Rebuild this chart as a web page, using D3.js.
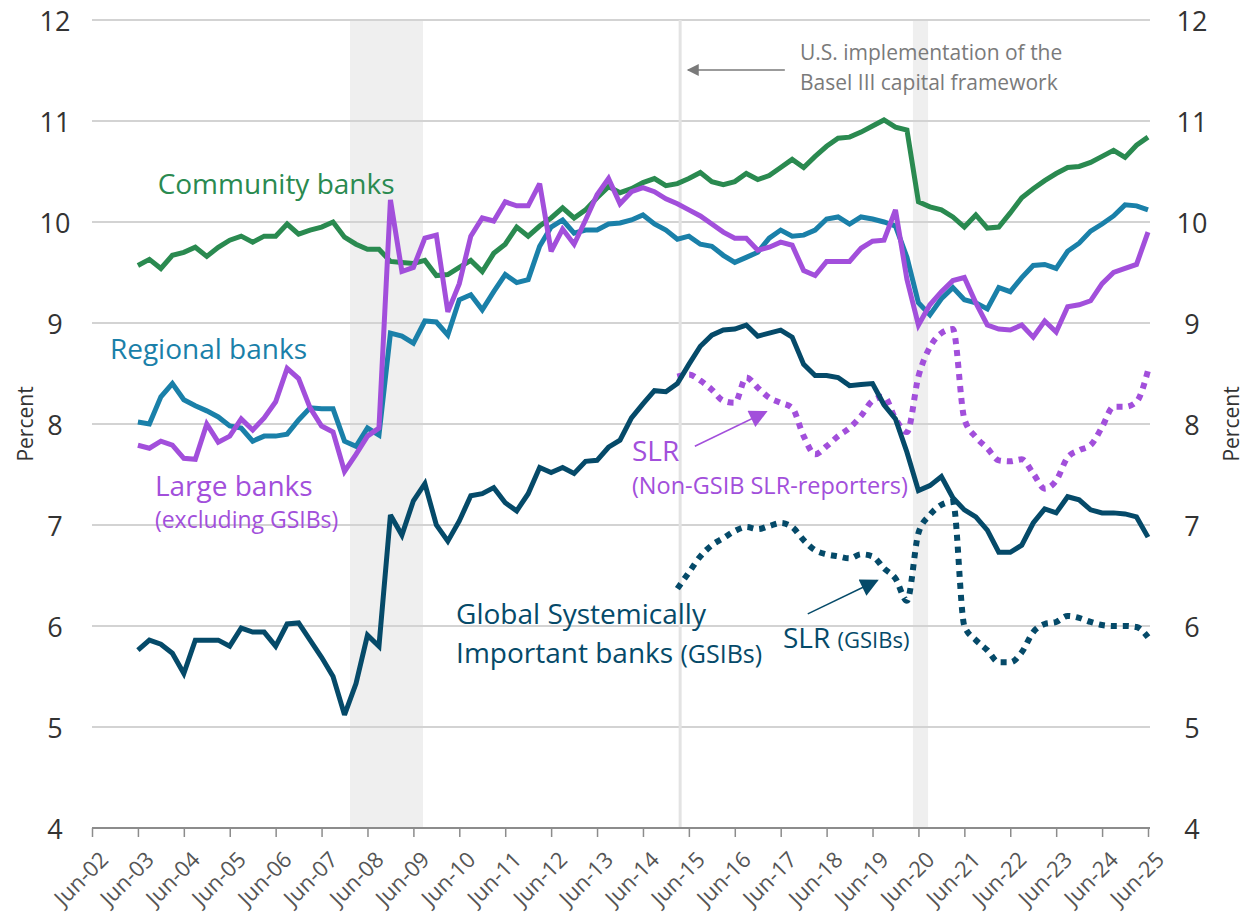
<!DOCTYPE html>
<html><head><meta charset="utf-8">
<script src="https://cdn.jsdelivr.net/npm/d3@7"></script>
<style>
body{margin:0;background:#fff;}
svg{display:block;font-family:"Open Sans","Noto Sans",sans-serif;}
</style></head>
<body><svg id="c" width="1248" height="924"></svg>
<script>
// quarterly observations, Jun-03 .. Jun-25
const startYear = 2003;
const community = [9.57,9.63,9.54,9.67,9.70,9.75,9.66,9.75,9.82,9.86,9.80,9.86,9.86,9.98,9.88,9.92,9.95,10.00,9.85,9.78,9.73,9.73,9.61,9.60,9.59,9.62,9.47,9.48,9.55,9.62,9.51,9.69,9.78,9.95,9.86,9.96,10.04,10.14,10.04,10.12,10.24,10.35,10.29,10.33,10.39,10.43,10.36,10.38,10.43,10.49,10.40,10.37,10.40,10.48,10.42,10.46,10.54,10.62,10.54,10.65,10.75,10.83,10.84,10.89,10.95,11.01,10.94,10.91,10.20,10.15,10.12,10.05,9.95,10.07,9.94,9.95,10.09,10.24,10.33,10.41,10.48,10.54,10.55,10.59,10.65,10.71,10.64,10.76,10.84];
const regional = [8.02,8.00,8.27,8.40,8.24,8.18,8.13,8.07,7.98,7.96,7.83,7.88,7.88,7.90,8.04,8.16,8.15,8.15,7.83,7.78,7.96,7.89,8.90,8.87,8.80,9.02,9.01,8.88,9.23,9.28,9.13,9.31,9.48,9.40,9.43,9.76,9.95,10.02,9.89,9.92,9.92,9.98,9.99,10.02,10.07,9.98,9.92,9.83,9.86,9.78,9.76,9.67,9.60,9.65,9.70,9.84,9.92,9.86,9.87,9.92,10.03,10.05,9.98,10.05,10.03,10.00,9.96,9.65,9.20,9.08,9.24,9.35,9.23,9.20,9.14,9.35,9.31,9.45,9.57,9.58,9.54,9.71,9.79,9.91,9.98,10.06,10.17,10.16,10.12];
const large = [7.79,7.76,7.83,7.79,7.66,7.65,8.00,7.82,7.88,8.05,7.94,8.06,8.22,8.55,8.45,8.16,7.98,7.92,7.53,7.70,7.88,7.96,10.22,9.51,9.55,9.84,9.87,9.11,9.39,9.86,10.04,10.01,10.20,10.16,10.16,10.38,9.71,9.93,9.78,10.02,10.27,10.43,10.18,10.30,10.34,10.30,10.23,10.18,10.12,10.06,9.98,9.90,9.84,9.84,9.72,9.75,9.80,9.77,9.52,9.47,9.61,9.61,9.61,9.74,9.81,9.82,10.12,9.43,8.98,9.18,9.31,9.42,9.45,9.20,8.98,8.94,8.93,8.98,8.86,9.02,8.91,9.16,9.18,9.22,9.39,9.50,9.54,9.58,9.90];
const gsib = [5.76,5.86,5.82,5.73,5.53,5.86,5.86,5.86,5.80,5.98,5.94,5.94,5.80,6.02,6.03,5.86,5.69,5.50,5.12,5.43,5.91,5.80,7.10,6.90,7.24,7.41,7.00,6.84,7.04,7.29,7.31,7.37,7.22,7.14,7.31,7.57,7.52,7.57,7.51,7.63,7.64,7.77,7.84,8.06,8.20,8.33,8.32,8.40,8.59,8.77,8.88,8.93,8.94,8.98,8.87,8.90,8.93,8.86,8.59,8.48,8.48,8.46,8.38,8.39,8.40,8.19,8.05,7.72,7.34,7.39,7.48,7.27,7.15,7.08,6.95,6.73,6.73,6.80,7.02,7.16,7.12,7.28,7.25,7.15,7.12,7.12,7.11,7.08,6.88];
// SLR series start at quarter index 47 (Mar-15)
const slrStart = 47;
const slrNonGsib = [8.47,8.49,8.43,8.34,8.23,8.21,8.46,8.36,8.26,8.21,8.16,7.88,7.70,7.78,7.88,7.96,8.08,8.23,8.27,8.05,7.92,8.47,8.76,8.90,8.94,8.05,7.87,7.76,7.64,7.63,7.65,7.51,7.36,7.44,7.67,7.74,7.79,7.97,8.17,8.17,8.22,8.53];
const slrGsib = [6.37,6.53,6.69,6.80,6.87,6.94,6.98,6.96,6.99,7.02,6.98,6.85,6.75,6.71,6.69,6.67,6.71,6.69,6.57,6.47,6.25,6.92,7.10,7.20,7.23,6.00,5.86,5.76,5.64,5.64,5.74,5.94,6.02,6.04,6.10,6.08,6.04,6.01,6.00,6.00,5.99,5.89];
const tickYears = d3.range(2002, 2026);
const tickLabels = tickYears.map(y => "Jun-" + String(y % 100).padStart(2, "0"));
const yTicks = [4,5,6,7,8,9,10,11,12];
const recessions = [[2007.62, 2009.21], [2019.88, 2020.21]];
const basel3 = 2014.81;

const colors = {community:"#2a8a50", regional:"#1a80a9", large:"#a24fdb", gsib:"#054a69", grey:"#7a7a7a"};

const svg = d3.select("#c");
const x = d3.scaleLinear().domain([2002, 2025]).range([92, 1148]);
const y = d3.scaleLinear().domain([4, 12]).range([828, 20]);

// recession shading
svg.selectAll("rect.rec").data(recessions).join("rect")
  .attr("x", d => x(d[0])).attr("width", d => x(d[1]) - x(d[0]))
  .attr("y", y(12)).attr("height", y(4) - y(12)).attr("fill", "#efefef");

// gridlines
svg.append("g").selectAll("line").data(yTicks.filter(v => v > 4)).join("line")
  .attr("x1", x(2002)).attr("x2", x(2025) + 2)
  .attr("y1", d => y(d)).attr("y2", d => y(d))
  .attr("stroke", "#d3d3d3").attr("stroke-width", 2);

// Basel III line
svg.append("line").attr("x1", x(basel3)).attr("x2", x(basel3))
  .attr("y1", y(12)).attr("y2", y(4)).attr("stroke", "#e3e3e3").attr("stroke-width", 3);

// x axis
const xAxis = d3.axisBottom(x).tickValues(tickYears).tickFormat((d, i) => tickLabels[i]).tickSize(9).tickSizeOuter(0);
const gx = svg.append("g").attr("transform", `translate(0,${y(4)})`).call(xAxis);
gx.select(".domain").attr("stroke", "#8c8c8c").attr("stroke-width", 2).attr("d", `M${x(2002)},0H${x(2025)+2}`);
gx.selectAll(".tick line").attr("stroke", "#8c8c8c").attr("stroke-width", 1.5);
gx.selectAll(".tick text").attr("font-size", 22).attr("fill", "#555")
  .attr("font-family", "Open Sans, sans-serif")
  .attr("text-anchor", "end").attr("dy", 0)
  .attr("transform", "translate(10,26) rotate(-45)").attr("y", 10).attr("x", 0);

// y tick labels, both sides
[[55], [1192]].forEach(([px]) => {
  svg.append("g").selectAll("text").data(yTicks).join("text")
    .attr("x", px).attr("y", d => y(d)).attr("text-anchor", "middle")
    .attr("dominant-baseline", "central").attr("font-size", 27).attr("fill", "#333")
    .text(d => d);
});
[[25], [1231]].forEach(([px]) => {
  svg.append("text").attr("transform", `translate(${px},${y(8)}) rotate(-90)`)
    .attr("text-anchor", "middle").attr("dominant-baseline", "central")
    .attr("font-size", 21).attr("fill", "#333").text("Percent");
});

// series
const line = d3.line().x((d, i) => x(startYear + i / 4)).y(d => y(d));
const dotted = (off) => d3.line().x((d, i) => x(startYear + (i + off) / 4)).y(d => y(d)).curve(d3.curveMonotoneX);

svg.append("path").attr("d", dotted(slrStart)(slrNonGsib)).attr("fill", "none")
  .attr("stroke", colors.large).attr("stroke-width", 6).attr("stroke-dasharray", "6,6");
svg.append("path").attr("d", dotted(slrStart)(slrGsib)).attr("fill", "none")
  .attr("stroke", colors.gsib).attr("stroke-width", 6).attr("stroke-dasharray", "6,6");

[[community, colors.community], [regional, colors.regional], [large, colors.large], [gsib, colors.gsib]].forEach(([s, c]) => {
  svg.append("path").attr("d", line(s)).attr("fill", "none").attr("stroke", c)
    .attr("stroke-width", 5).attr("stroke-linejoin", "miter").attr("stroke-miterlimit", 3);
});

// arrows
const defs = svg.append("defs");
function marker(id, col, w, h) {
  defs.append("marker").attr("id", id).attr("viewBox", "0 0 10 10").attr("refX", 9).attr("refY", 5)
    .attr("markerUnits", "userSpaceOnUse").attr("markerWidth", w).attr("markerHeight", h).attr("orient", "auto")
    .append("path").attr("d", "M0,0L10,5L0,10Z").attr("fill", col);
}
marker("ag", colors.grey, 14, 12);
marker("ap", colors.large, 20, 18);
marker("an", colors.gsib, 20, 18);
function arrow(a, b, col, m, w) {
  svg.append("line").attr("x1", x(a[0])).attr("y1", y(a[1])).attr("x2", x(b[0])).attr("y2", y(b[1]))
    .attr("stroke", col).attr("stroke-width", w).attr("marker-end", `url(#${m})`);
}
arrow([2017.09, 11.505], [2014.98, 11.505], colors.grey, "ag", 1.5);
arrow([2015.13, 7.78], [2016.68, 8.12], colors.large, "ap", 1.5);
arrow([2017.59, 6.12], [2019.10, 6.45], colors.gsib, "an", 1.5);

// labels
function label(px, py, parts, col) {
  const t = svg.append("text").attr("x", x(px)).attr("y", y(py)).attr("fill", col);
  parts.forEach(([s, fs]) => t.append("tspan").attr("font-size", fs).text(s));
  return t;
}
label(2003.43, 10.28, [["Community banks", 28]], colors.community);
label(2002.39, 8.64, [["Regional banks", 28]], colors.regional);
label(2003.37, 7.29, [["Large banks", 28]], colors.large);
label(2003.37, 6.97, [["(excluding GSIBs)", 23]], colors.large);
label(2013.76, 7.63, [["SLR", 28]], colors.large);
label(2013.76, 7.31, [["(Non-GSIB SLR-reporters)", 23.5]], colors.large);
label(2009.93, 6.02, [["Global Systemically", 28]], colors.gsib);
label(2009.93, 5.63, [["Important banks ", 28], ["(GSIBs)", 25]], colors.gsib);
label(2017.05, 5.78, [["SLR ", 28], ["(GSIBs)", 22]], colors.gsib);
label(2017.42, 11.60, [["U.S. implementation of the", 21]], colors.grey);
label(2017.42, 11.31, [["Basel III capital framework", 21]], colors.grey);
</script></body></html>
